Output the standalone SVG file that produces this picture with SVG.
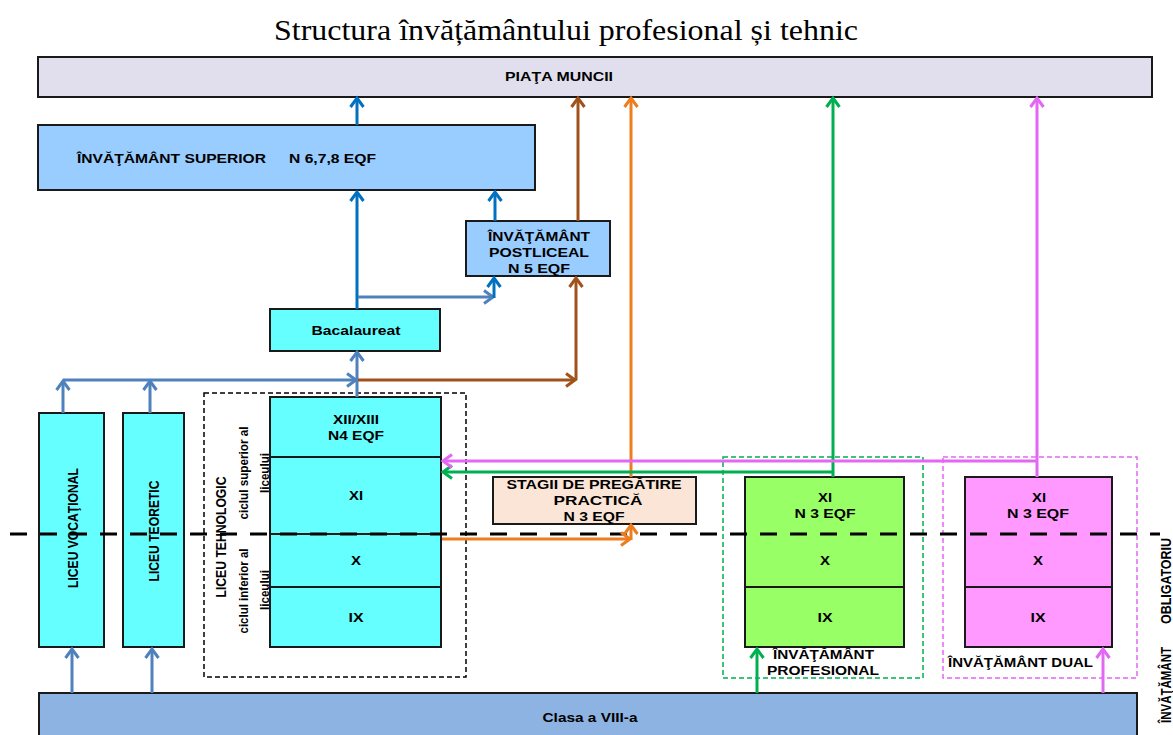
<svg xmlns="http://www.w3.org/2000/svg" width="1173" height="735" viewBox="0 0 1173 735">
<style>
.bx{stroke:#1a1a1a;stroke-width:2}
.t{font-family:"Liberation Sans",Arial,sans-serif;font-weight:bold;font-size:12.5px;fill:#000;text-anchor:middle}
.tl{font-family:"Liberation Sans",Arial,sans-serif;font-weight:bold;font-size:12.5px;fill:#000}
.rot{font-family:"Liberation Sans",Arial,sans-serif;font-weight:bold;font-size:15px;fill:#000;text-anchor:middle;dominant-baseline:central}
.rots{font-family:"Liberation Sans",Arial,sans-serif;font-weight:bold;font-size:13.5px;fill:#000;text-anchor:middle;dominant-baseline:central}
.c{fill:none;stroke-width:3}
.dk{stroke:#0070c0}
.lb{stroke:#4f81bd}
.br{stroke:#a0521a}
.or{stroke:#ed7d1f}
.gr{stroke:#00b050}
.mg{stroke:#e366f5}
</style>
<defs>
<marker id="aDk" markerUnits="userSpaceOnUse" markerWidth="16" markerHeight="16" viewBox="0 0 16 16" refX="13" refY="8" orient="auto"><path d="M4,1.5 L13,8 L4,14.5" fill="none" stroke="#0070c0" stroke-width="3"/></marker>
<marker id="aLb" markerUnits="userSpaceOnUse" markerWidth="16" markerHeight="16" viewBox="0 0 16 16" refX="13" refY="8" orient="auto"><path d="M4,1.5 L13,8 L4,14.5" fill="none" stroke="#4f81bd" stroke-width="3"/></marker>
<marker id="aBr" markerUnits="userSpaceOnUse" markerWidth="16" markerHeight="16" viewBox="0 0 16 16" refX="13" refY="8" orient="auto"><path d="M4,1.5 L13,8 L4,14.5" fill="none" stroke="#a0521a" stroke-width="3"/></marker>
<marker id="aOr" markerUnits="userSpaceOnUse" markerWidth="16" markerHeight="16" viewBox="0 0 16 16" refX="13" refY="8" orient="auto"><path d="M4,1.5 L13,8 L4,14.5" fill="none" stroke="#ed7d1f" stroke-width="3"/></marker>
<marker id="aGr" markerUnits="userSpaceOnUse" markerWidth="16" markerHeight="16" viewBox="0 0 16 16" refX="13" refY="8" orient="auto"><path d="M4,1.5 L13,8 L4,14.5" fill="none" stroke="#00b050" stroke-width="3"/></marker>
<marker id="aMg" markerUnits="userSpaceOnUse" markerWidth="16" markerHeight="16" viewBox="0 0 16 16" refX="13" refY="8" orient="auto"><path d="M4,1.5 L13,8 L4,14.5" fill="none" stroke="#e366f5" stroke-width="3"/></marker>
</defs>
<rect width="1173" height="735" fill="#fff"/>

<text x="566" y="40" font-family="'Liberation Serif','Times New Roman',serif" font-size="29" text-anchor="middle" textLength="584" lengthAdjust="spacingAndGlyphs">Structura învățământului profesional și tehnic</text>

<g id="piata">
<rect class="bx" x="38" y="57" width="1114" height="40" fill="#e1dfee"/>
<text class="t" x="559" y="81" textLength="108" lengthAdjust="spacingAndGlyphs">PIAŢA MUNCII</text>
</g>

<g id="superior">
<rect class="bx" x="38" y="125" width="497" height="65" fill="#99ccff"/>
<text class="tl" x="77" y="163" textLength="189" lengthAdjust="spacingAndGlyphs">ÎNVĂŢĂMÂNT SUPERIOR</text>
<text class="tl" x="289" y="163" textLength="87" lengthAdjust="spacingAndGlyphs">N 6,7,8 EQF</text>
</g>

<g id="postliceal">
<rect class="bx" x="466" y="221" width="144" height="55" fill="#99ccff"/>
<text class="t" x="539" y="241" textLength="102" lengthAdjust="spacingAndGlyphs">ÎNVĂŢĂMÂNT</text>
<text class="t" x="539" y="257" textLength="100" lengthAdjust="spacingAndGlyphs">POSTLICEAL</text>
<text class="t" x="539" y="273" textLength="62" lengthAdjust="spacingAndGlyphs">N 5 EQF</text>
</g>

<g id="bacalaureat">
<rect class="bx" x="270" y="309" width="170" height="42" fill="#66ffff"/>
<text class="t" x="356" y="335" textLength="89" lengthAdjust="spacingAndGlyphs">Bacalaureat</text>
</g>

<g id="liceu-vocational">
<rect class="bx" x="39" y="413" width="65" height="234" fill="#66ffff"/>
<text class="rot" transform="translate(72,528) rotate(-90)" textLength="120" lengthAdjust="spacingAndGlyphs">LICEU VOCAŢIONAL</text>
</g>

<g id="liceu-teoretic">
<rect class="bx" x="123" y="413" width="61" height="234" fill="#66ffff"/>
<text class="rot" transform="translate(153,531) rotate(-90)" textLength="101" lengthAdjust="spacingAndGlyphs">LICEU TEORETIC</text>
</g>

<g id="liceu-tehnologic">
<rect x="204" y="393" width="262" height="284" fill="none" stroke="#000" stroke-width="1.5" stroke-dasharray="5,3"/>
<text class="rot" transform="translate(220,537) rotate(-90)" textLength="121" lengthAdjust="spacingAndGlyphs">LICEU TEHNOLOGIC</text>
<text class="rots" transform="translate(243.5,473) rotate(-90)" textLength="93" lengthAdjust="spacingAndGlyphs">ciclul superior al</text>
<text class="rots" transform="translate(264,473) rotate(-90)" textLength="40" lengthAdjust="spacingAndGlyphs">liceului</text>
<text class="rots" transform="translate(243.5,591) rotate(-90)" textLength="85" lengthAdjust="spacingAndGlyphs">ciclul inferior al</text>
<text class="rots" transform="translate(264,590) rotate(-90)" textLength="40" lengthAdjust="spacingAndGlyphs">liceului</text>
<rect class="bx" x="270" y="397" width="171" height="250" fill="#66ffff"/>
<line x1="270" y1="457" x2="441" y2="457" stroke="#1a1a1a" stroke-width="2"/>
<line x1="270" y1="534" x2="441" y2="534" stroke="#1a1a1a" stroke-width="2"/>
<line x1="270" y1="587" x2="441" y2="587" stroke="#1a1a1a" stroke-width="2"/>
<text class="t" x="356" y="424" textLength="46" lengthAdjust="spacingAndGlyphs">XII/XIII</text>
<text class="t" x="356" y="440" textLength="56" lengthAdjust="spacingAndGlyphs">N4 EQF</text>
<text class="t" x="356" y="500" textLength="14" lengthAdjust="spacingAndGlyphs">XI</text>
<text class="t" x="356" y="565" textLength="10" lengthAdjust="spacingAndGlyphs">X</text>
<text class="t" x="356" y="622" textLength="15" lengthAdjust="spacingAndGlyphs">IX</text>
</g>

<g id="stagii">
<rect class="bx" x="493" y="477" width="203" height="47" fill="#fbe5d6"/>
<text class="t" x="594" y="489" textLength="175" lengthAdjust="spacingAndGlyphs">STAGII DE PREGĂTIRE</text>
<text class="t" x="598" y="505" textLength="89" lengthAdjust="spacingAndGlyphs">PRACTICĂ</text>
<text class="t" x="594" y="521" textLength="61" lengthAdjust="spacingAndGlyphs">N 3 EQF</text>
</g>

<g id="profesional">
<rect x="723" y="457" width="200" height="221" fill="none" stroke="#00b050" stroke-width="1.5" stroke-dasharray="5,3"/>
<rect class="bx" x="745" y="477" width="159" height="170" fill="#99ff66"/>
<line x1="745" y1="587" x2="904" y2="587" stroke="#1a1a1a" stroke-width="2"/>
<text class="t" x="825" y="502" textLength="14" lengthAdjust="spacingAndGlyphs">XI</text>
<text class="t" x="825" y="518" textLength="61" lengthAdjust="spacingAndGlyphs">N 3 EQF</text>
<text class="t" x="825" y="565" textLength="10" lengthAdjust="spacingAndGlyphs">X</text>
<text class="t" x="825" y="622" textLength="15" lengthAdjust="spacingAndGlyphs">IX</text>
<text class="tl" x="773" y="659" textLength="101" lengthAdjust="spacingAndGlyphs">ÎNVĂŢĂMÂNT</text>
<text class="tl" x="767" y="675" textLength="112" lengthAdjust="spacingAndGlyphs">PROFESIONAL</text>
</g>

<g id="dual">
<rect x="943" y="457" width="194" height="221" fill="none" stroke="#e366f5" stroke-width="1.5" stroke-dasharray="5,3"/>
<rect class="bx" x="965" y="477" width="147" height="170" fill="#ff99ff"/>
<line x1="965" y1="587" x2="1112" y2="587" stroke="#1a1a1a" stroke-width="2"/>
<text class="t" x="1039" y="502" textLength="14" lengthAdjust="spacingAndGlyphs">XI</text>
<text class="t" x="1038" y="518" textLength="62" lengthAdjust="spacingAndGlyphs">N 3 EQF</text>
<text class="t" x="1038" y="565" textLength="10" lengthAdjust="spacingAndGlyphs">X</text>
<text class="t" x="1038" y="622" textLength="15" lengthAdjust="spacingAndGlyphs">IX</text>
<text class="tl" x="948" y="667" textLength="145" lengthAdjust="spacingAndGlyphs">ÎNVĂŢĂMÂNT DUAL</text>
</g>

<g id="clasa">
<rect class="bx" x="39" y="693" width="1098" height="50" fill="#8db3e2"/>
<text class="t" x="590" y="722" textLength="95" lengthAdjust="spacingAndGlyphs">Clasa a VIII-a</text>
</g>

<g id="obligatoriu">
<text class="rot" transform="translate(1165,581) rotate(-90)" textLength="86" lengthAdjust="spacingAndGlyphs">OBLIGATORIU</text>
<text class="rot" transform="translate(1165,685) rotate(-90)" textLength="76" lengthAdjust="spacingAndGlyphs">ÎNVĂŢĂMÂNT</text>
</g>

<line id="limita" x1="10" y1="534" x2="1160" y2="534" stroke="#000" stroke-width="3" stroke-dasharray="17,13"/>

<g id="connectors">
<path class="c dk" d="M357,125 L357,98" marker-end="url(#aDk)"/>
<path class="c dk" d="M357,309 L357,192" marker-end="url(#aDk)"/>
<path class="c lb" d="M358,297 L493,297" marker-end="url(#aLb)"/>
<path class="c dk" d="M494,298 L494,278" marker-end="url(#aDk)"/>
<path class="c dk" d="M495,221 L495,192" marker-end="url(#aDk)"/>
<path class="c br" d="M578,221 L578,98" marker-end="url(#aBr)"/>
<path class="c lb" d="M63,413 L63,381" marker-end="url(#aLb)"/>
<path class="c lb" d="M150,413 L150,381" marker-end="url(#aLb)"/>
<path class="c lb" d="M63,380 L356,380" marker-end="url(#aLb)"/>
<path class="c lb" d="M357,397 L357,352" marker-end="url(#aLb)"/>
<path class="c br" d="M358,380 L575,380" marker-end="url(#aBr)"/>
<path class="c br" d="M576,380 L576,278" marker-end="url(#aBr)"/>
<path class="c or" d="M631,477 L631,98" marker-end="url(#aOr)"/>
<path class="c or" d="M442,539 L630,539" marker-end="url(#aOr)"/>
<path class="c or" d="M631,540 L631,525" marker-end="url(#aOr)"/>
<path class="c gr" d="M833,477 L833,98" marker-end="url(#aGr)"/>
<path class="c gr" d="M833,472 L443,472" marker-end="url(#aGr)"/>
<path class="c mg" d="M1037,477 L1037,98" marker-end="url(#aMg)"/>
<path class="c mg" d="M1037,461 L443,461" marker-end="url(#aMg)"/>
<path class="c lb" d="M72,693 L72,649" marker-end="url(#aLb)"/>
<path class="c lb" d="M152,693 L152,649" marker-end="url(#aLb)"/>
<path class="c gr" d="M757,693 L757,649" marker-end="url(#aGr)"/>
<path class="c mg" d="M1103,693 L1103,649" marker-end="url(#aMg)"/>
</g>
</svg>
